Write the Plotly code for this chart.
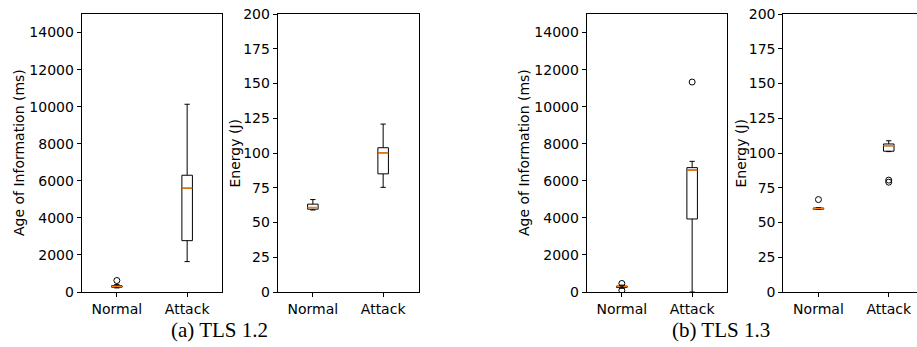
import plotly.graph_objects as go

W, H = 917, 347

categories = ["Normal", "Attack"]
positions = [1, 2]

# TLS 1.2 - Age of Information (ms)
aoi12_lower = [220, 1640]
aoi12_q1 = [260, 2770]
aoi12_median = [300, 5600]
aoi12_q3 = [340, 6300]
aoi12_upper = [400, 10130]
aoi12_outliers = [[620], []]

# TLS 1.2 - Energy (J)
en12_lower = [59.0, 75.3]
en12_q1 = [59.6, 85.0]
en12_median = [60.8, 100.1]
en12_q3 = [63.2, 103.8]
en12_upper = [66.5, 120.8]
en12_outliers = [[], []]

# TLS 1.3 - Age of Information (ms)
aoi13_lower = [200, 0]
aoi13_q1 = [240, 3940]
aoi13_median = [290, 6580]
aoi13_q3 = [320, 6710]
aoi13_upper = [370, 7050]
aoi13_outliers = [[460, 90], [11330]]

# TLS 1.3 - Energy (J)
en13_lower = [59.4, 101.0]
en13_q1 = [59.6, 101.3]
en13_median = [60.0, 105.2]
en13_q3 = [60.4, 106.5]
en13_upper = [60.6, 108.8]
en13_outliers = [[66.5], [80.5, 79.0]]

aoi_ticks = [0, 2000, 4000, 6000, 8000, 10000, 12000, 14000]
energy_ticks = [0, 25, 50, 75, 100, 125, 150, 175, 200]

BOX_W = 0.15
ORANGE = "#ff7f0e"
TICK_FONT = dict(family="DejaVu Sans", size=14, color="black")

fig = go.Figure()

panels = [
    (aoi12_lower, aoi12_q1, aoi12_median, aoi12_q3, aoi12_upper, aoi12_outliers),
    (en12_lower, en12_q1, en12_median, en12_q3, en12_upper, en12_outliers),
    (aoi13_lower, aoi13_q1, aoi13_median, aoi13_q3, aoi13_upper, aoi13_outliers),
    (en13_lower, en13_q1, en13_median, en13_q3, en13_upper, en13_outliers),
]

for i, (lo, q1, med, q3, up, outs) in enumerate(panels):
    n = "" if i == 0 else str(i + 1)
    xa, ya = "x" + n, "y" + n
    fig.add_trace(go.Box(
        x=positions, q1=q1, median=med, q3=q3, lowerfence=lo, upperfence=up,
        width=BOX_W, whiskerwidth=0.5, boxpoints=False,
        line=dict(color="black", width=1), fillcolor="rgba(0,0,0,0)",
        xaxis=xa, yaxis=ya, hoverinfo="skip", showlegend=False,
    ))
    for p, m in zip(positions, med):
        fig.add_trace(go.Scatter(
            x=[p - BOX_W / 2, p + BOX_W / 2], y=[m, m], mode="lines",
            line=dict(color=ORANGE, width=1.3), xaxis=xa, yaxis=ya,
            hoverinfo="skip", showlegend=False,
        ))
    ox, oy = [], []
    for p, o in zip(positions, outs):
        ox += [p] * len(o)
        oy += o
    if ox:
        fig.add_trace(go.Scatter(
            x=ox, y=oy, mode="markers",
            marker=dict(symbol="circle-open", size=6, color="black", line=dict(width=1)),
            xaxis=xa, yaxis=ya, hoverinfo="skip", showlegend=False,
        ))

# layout geometry (pixels)
x_doms_px = [(81.7, 222.0), (277.7, 419.0), (586.7, 727.3), (783.3, 917.0)]
y_dom = [1 - 292 / H, 1 - 14 / H]
panel_w = 140.6

layout = dict(
    width=W, height=H, margin=dict(l=0, r=0, t=0, b=0, pad=0),
    paper_bgcolor="white", plot_bgcolor="white", showlegend=False,
)
for i, (a, b) in enumerate(x_doms_px):
    n = "" if i == 0 else str(i + 1)
    xr_end = 0.5 + 2 * (b - a) / panel_w
    is_aoi = i in (0, 2)
    yt = aoi_ticks if is_aoi else energy_ticks
    layout["xaxis" + n] = dict(
        domain=[a / W, b / W], anchor="y" + n, range=[0.5, xr_end],
        tickvals=positions, ticktext=categories, tickfont=TICK_FONT,
        ticks="outside", ticklen=4, tickwidth=1, tickcolor="black",
        showline=True, linecolor="black", linewidth=1, mirror=True,
        showgrid=False, zeroline=False, fixedrange=True, automargin=False,
    )
    layout["yaxis" + n] = dict(
        domain=y_dom, anchor="x" + n,
        range=[0, 15000] if is_aoi else [0, 200],
        tickvals=yt, ticktext=[str(v) for v in yt],
        tickfont=TICK_FONT,
        ticks="outside", ticklen=4, tickwidth=1, tickcolor="black",
        showline=True, linecolor="black", linewidth=1,
        mirror=(i != 3),
        showgrid=False, zeroline=False, fixedrange=True, automargin=False,
    )

fig.update_layout(**layout)

LABEL_FONT = dict(family="DejaVu Sans", size=14, color="black")
axis_titles = [
    ("Age of Information (ms)", 19, 153),
    ("Energy (J)", 234.5, 153),
    ("Age of Information (ms)", 524, 153),
    ("Energy (J)", 740.5, 153),
]
for text, xp, yp in axis_titles:
    fig.add_annotation(
        text=text, x=xp / W, y=1 - yp / H, xref="paper", yref="paper",
        xanchor="center", yanchor="middle", textangle=-90, showarrow=False,
        font=LABEL_FONT,
    )

captions = [("(a) TLS 1.2", 219, 330), ("(b) TLS 1.3", 721, 330)]
for text, xp, yp in captions:
    fig.add_annotation(
        text=text, x=xp / W, y=1 - yp / H, xref="paper", yref="paper",
        xanchor="center", yanchor="middle", showarrow=False, borderpad=0,
        font=dict(family="Liberation Serif", size=21, color="black"),
    )

fig.write_html(
    "out.html",
    config={"displayModeBar": False},
    post_script="document.body.style.margin='0';document.body.style.overflow='hidden';",
)
